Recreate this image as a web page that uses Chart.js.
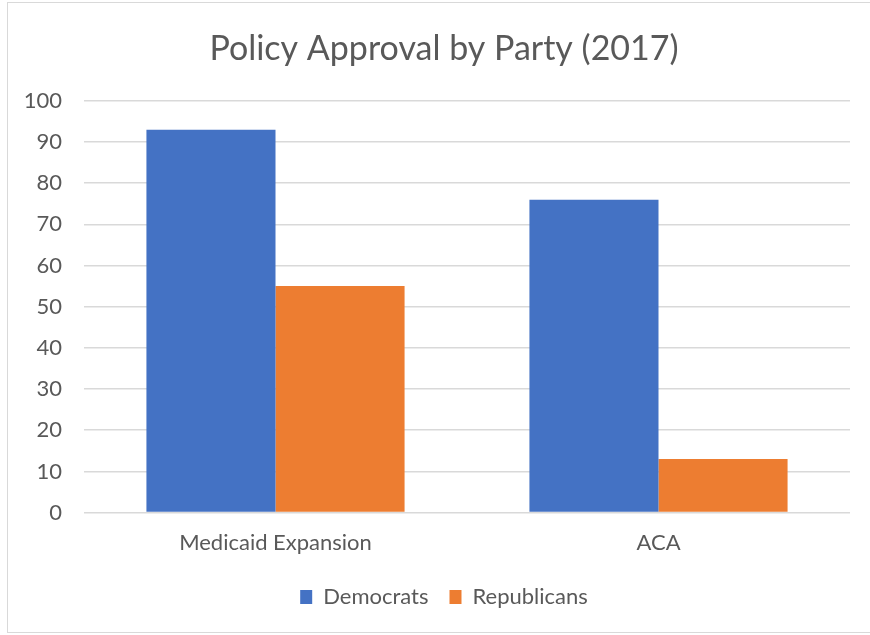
<!DOCTYPE html>
<html>
<head>
<meta charset="utf-8">
<script src="https://cdn.jsdelivr.net/npm/chart.js@4/dist/chart.umd.min.js"></script>
<style>
  html, body { margin: 0; padding: 0; background: #fff; overflow: hidden; }
  #frame {
    position: absolute; left: 7px; top: 2px;
    width: 872px; height: 629px;
    border: 1px solid #d9d9d9;
    background: #fff;
  }
  #chart { display: block; }
</style>
</head>
<body>
<div id="frame"><canvas id="chart" width="872" height="629"></canvas></div>
<script>
// categorias e valores (% de aprovação)
const categorias = ['Medicaid Expansion', 'ACA'];
const democratas = [93, 76];
const republicanos = [55, 13];
const yTicks = [0, 10, 20, 30, 40, 50, 60, 70, 80, 90, 100];

const FONTE = 'Lato, "Open Sans", sans-serif';
const CINZA = '#595959';

new Chart(document.getElementById('chart'), {
    type: 'bar',
    data: {
        labels: categorias,
        datasets: [
            { label: 'Democrats', data: democratas, backgroundColor: '#4472C4' },
            { label: 'Republicans', data: republicanos, backgroundColor: '#ED7D31' },
        ],
    },
    options: {
        responsive: false,
        animation: false,
        layout: { padding: { left: 0, right: 0, top: 0, bottom: 14 } },
        datasets: { bar: { categoryPercentage: 0.674, barPercentage: 1.0, borderWidth: 0 } },
        plugins: {
            title: {
                display: true,
                text: 'Policy Approval by Party (2017)',
                color: CINZA,
                font: { family: FONTE, size: 34, weight: 'normal' },
                padding: { top: 26, bottom: 31 },
            },
            legend: {
                position: 'bottom',
                labels: {
                    color: CINZA,
                    font: { family: FONTE, size: 22 },
                    boxWidth: 12,
                    boxHeight: 14,
                    padding: 21,
                },
            },
            tooltip: { enabled: false },
        },
        scales: {
            x: {
                grid: { display: false },
                border: { display: false },
                ticks: { color: CINZA, font: { family: FONTE, size: 22 }, padding: 9 },
            },
            y: {
                min: 0,
                max: 100,
                afterFit: (s) => { s.width = 76; },
                afterBuildTicks: (s) => { s.ticks = yTicks.map(v => ({ value: v })); },
                grid: { color: '#d9d9d9', lineWidth: 1.5, drawTicks: false },
                border: { display: false },
                ticks: { color: CINZA, font: { family: FONTE, size: 22 }, padding: 22 },
            },
            // margem direita vazia (só reserva espaço à direita do gráfico)
            margem: {
                position: 'right',
                afterFit: (s) => { s.width = 30; },
                grid: { display: false },
                border: { display: false },
                ticks: { display: false },
            },
        },
    },
});
</script>
</body>
</html>
